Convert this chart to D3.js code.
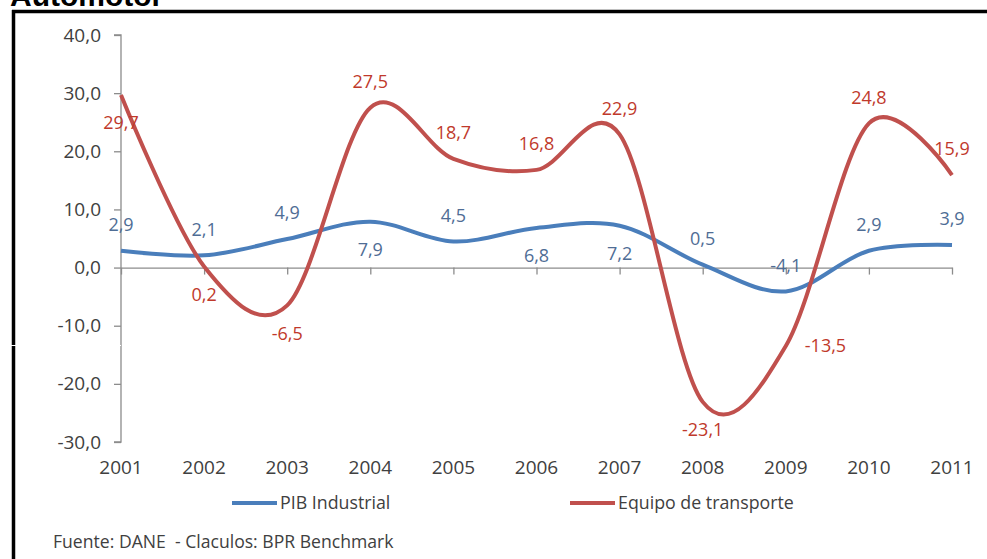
<!DOCTYPE html>
<html>
<head>
<meta charset="utf-8">
<script src="https://cdn.jsdelivr.net/npm/d3@7"></script>
<style>
  body { margin: 0; background: #fff; }
  svg { display: block; }
</style>
</head>
<body>
<svg id="chart"></svg>
<script>
const years = ["2001","2002","2003","2004","2005","2006","2007","2008","2009","2010","2011"];
const pibIndustrial = [2.9, 2.1, 4.9, 7.9, 4.5, 6.8, 7.2, 0.5, -4.1, 2.9, 3.9];
const equipoTransporte = [29.7, 0.2, -6.5, 27.5, 18.7, 16.8, 22.9, -23.1, -13.5, 24.8, 15.9];
const yTicks = [40, 30, 20, 10, 0, -10, -20, -30];
// where each data label sits relative to its point
const pibLabelPos = ["above","above","above","below","above","below","below","above","above","above","above"];
const equipoLabelPos = ["below","below","below","above","above","above","above","below","right","above","above"];

const W = 987, H = 559;
let svg = d3.select("#chart").attr("width", W).attr("height", H);

const x = d3.scalePoint().domain(years).range([121, 952]);
const y = d3.scaleLinear().domain([-30, 40]).range([442, 35]);
const fmt = v => d3.format(".1f")(v).replace(".", ",").replace("\u2212", "-");
const font = "'Open Sans', sans-serif";

// title, cut off at the top like in the original
svg.append("text").attr("x", 10).attr("y", 6).text("Automotor")
  .style("font-family", "'Liberation Sans', Arial, sans-serif").style("font-weight", "bold")
  .style("font-size", "30px").style("fill", "#000");

// frame
svg.append("line").attr("x1", 12).attr("x2", W).attr("y1", 11.5).attr("y2", 11.5)
  .style("stroke", "#000").style("stroke-width", 3.5);
svg.append("line").attr("x1", 13.5).attr("x2", 13.5).attr("y1", 10).attr("y2", H)
  .style("stroke", "#000").style("stroke-width", 3.5);

// y axis
let yAxis = svg.append("g").attr("transform", `translate(${x(years[0])},0)`)
  .call(d3.axisLeft(y).tickValues(yTicks).tickSize(7).tickPadding(13).tickFormat(fmt));
yAxis.select(".domain").attr("d", `M-7,${y(40)}H0V${y(-30)}H-7`);
yAxis.selectAll("path, line").style("stroke", "#8c8c8c").style("stroke-width", 1.3);
yAxis.selectAll("text").style("font-family", font).style("font-size", "19px").style("fill", "#404040");

// x axis at zero
let xAxis = svg.append("g").attr("transform", `translate(0,${y(0)})`)
  .call(d3.axisBottom(x).tickSize(7).tickSizeOuter(0).tickFormat(""));
xAxis.selectAll("path, line").style("stroke", "#8c8c8c").style("stroke-width", 1.3);

// year labels along the bottom
svg.append("g").selectAll("text").data(years).join("text")
  .attr("x", d => x(d)).attr("y", 474).attr("text-anchor", "middle").text(d => d)
  .style("font-family", font).style("font-size", "19px").style("fill", "#404040");

const line = d3.line().x((d, i) => x(years[i])).y(d => y(d)).curve(d3.curveCardinal.tension(0));

function drawSeries(values, color, labelColor, positions) {
  svg.append("path").attr("d", line(values)).style("fill", "none")
    .style("stroke", color).style("stroke-width", 4).style("stroke-linejoin", "round");
  svg.append("g").selectAll("text").data(values).join("text")
    .attr("x", (d, i) => positions[i] == "right" ? x(years[i]) + 19 : x(years[i]))
    .attr("y", (d, i) => positions[i] == "above" ? y(d) - 26 : positions[i] == "below" ? y(d) + 28 : y(d))
    .attr("dy", "0.35em")
    .attr("text-anchor", (d, i) => positions[i] == "right" ? "start" : "middle")
    .text(d => fmt(d))
    .style("font-family", font).style("font-size", "18px").style("fill", labelColor);
}

drawSeries(pibIndustrial, "#4a7ebb", "#4f6d95", pibLabelPos);
drawSeries(equipoTransporte, "#c0504d", "#c0392b", equipoLabelPos);

// legend
const legend = [
  {name: "PIB Industrial", color: "#4a7ebb", x0: 232},
  {name: "Equipo de transporte", color: "#c0504d", x0: 570}
];
let lg = svg.append("g").selectAll("g").data(legend).join("g");
lg.append("line").attr("x1", d => d.x0).attr("x2", d => d.x0 + 45).attr("y1", 503).attr("y2", 503)
  .style("stroke", d => d.color).style("stroke-width", 4);
lg.append("text").attr("x", d => d.x0 + 48).attr("y", 503).attr("dy", "0.35em").text(d => d.name)
  .style("font-family", font).style("font-size", "17.8px").style("fill", "#404040");

// source
svg.append("text").attr("x", 53).attr("y", 542).attr("dy", "0.35em")
  .text("Fuente: DANE  - Claculos: BPR Benchmark").attr("xml:space", "preserve")
  .style("white-space", "pre")
  .style("font-family", font).style("font-size", "17.6px").style("fill", "#404040");

// faint white scan line across the left edge
svg.append("line").attr("x1", 0).attr("x2", 121).attr("y1", 345.5).attr("y2", 345.5)
  .style("stroke", "#fff").style("stroke-width", 1);
</script>
</body>
</html>
